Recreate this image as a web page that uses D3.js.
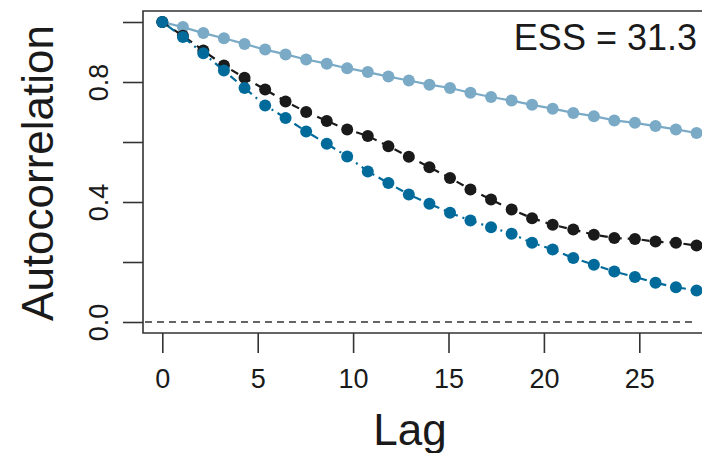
<!DOCTYPE html>
<html><head><meta charset="utf-8">
<script src="https://cdn.jsdelivr.net/npm/d3@7/dist/d3.min.js"></script>
<style>body{margin:0;background:#fff}svg{display:block}text{font-family:"Liberation Sans",Arial,Helvetica,sans-serif;fill:#1a1a1a}</style>
</head><body><svg id="c" width="702" height="453"></svg>
<script>
// Lag positions of the plotted points
const lags = [0,1.08,2.15,3.23,4.31,5.39,6.46,7.54,8.62,9.69,10.77,11.85,12.92,14.0,15.08,16.15,17.23,18.31,19.38,20.46,21.54,22.62,23.69,24.77,25.85,26.92,28.0];
const lightSeries = [1.0,0.983,0.963,0.946,0.927,0.908,0.892,0.875,0.861,0.846,0.833,0.818,0.805,0.791,0.780,0.764,0.750,0.738,0.724,0.711,0.697,0.686,0.672,0.664,0.653,0.642,0.630];
const blackSeries = [1.0,0.954,0.905,0.855,0.814,0.775,0.735,0.700,0.670,0.642,0.620,0.586,0.551,0.516,0.480,0.442,0.408,0.375,0.346,0.324,0.308,0.291,0.280,0.277,0.268,0.264,0.255];
const darkSeries = [1.0,0.950,0.896,0.838,0.780,0.722,0.680,0.635,0.594,0.552,0.502,0.463,0.425,0.394,0.364,0.338,0.316,0.294,0.264,0.242,0.213,0.191,0.168,0.150,0.131,0.116,0.105];
const xTicks = [0,5,10,15,20,25];
const yTicks = [0,0.2,0.4,0.6,0.8,1.0];
const yTickLabels = ["0.0","","0.4","","0.8",""];
const essLabel = "ESS = 31.3";

const svg = d3.select("#c");
const x = d3.scaleLinear().domain([0,25]).range([162.3,639.3]);
const y = d3.scaleLinear().domain([0,1]).range([322,22]);
const box = {l:143, t:11, b:333, r:720};
const axisCol = "#333";

// box
svg.append("path").attr("d",`M${box.r},${box.t}H${box.l}V${box.b}H${box.r}`)
  .attr("fill","none").attr("stroke",axisCol).attr("stroke-width",1.6);

// zero line
svg.append("line").attr("x1",box.l+2).attr("x2",694).attr("y1",y(0)).attr("y2",y(0))
  .attr("stroke",axisCol).attr("stroke-width",1.6).attr("stroke-dasharray","7,5");

// x axis
const xa = svg.append("g").attr("transform",`translate(0,${box.b})`)
  .call(d3.axisBottom(x).tickValues(xTicks).tickSize(20).tickSizeOuter(0).tickPadding(16));
xa.select(".domain").remove();
xa.selectAll("line").attr("stroke",axisCol).attr("stroke-width",1.6);
xa.selectAll("text").attr("font-size",27).attr("fill","#1a1a1a").style("font-family","Liberation Sans, Arial, sans-serif");

// y axis
const ya = svg.append("g").attr("transform",`translate(${box.l},0)`)
  .call(d3.axisLeft(y).tickValues(yTicks).tickSize(20).tickSizeOuter(0).tickFormat((d,i)=>yTickLabels[i]));
ya.select(".domain").remove();
ya.selectAll("line").attr("stroke",axisCol).attr("stroke-width",1.6);
ya.selectAll("text").attr("font-size",27).attr("fill","#1a1a1a").style("font-family","Liberation Sans, Arial, sans-serif")
  .attr("x",0).attr("dy",0).attr("text-anchor","middle")
  .attr("transform","translate(-35,0) rotate(-90)");

// axis titles
svg.append("text").attr("x",410).attr("y",445).attr("text-anchor","middle").attr("font-size",44).text("Lag");
svg.append("text").attr("transform","translate(53,173) rotate(-90)").attr("text-anchor","middle").attr("font-size",44).text("Autocorrelation");
svg.append("text").attr("x",697).attr("y",50).attr("text-anchor","end").attr("font-size",36).text(essLabel);

const line = d3.line().x((d,i)=>x(lags[i])).y(d=>y(d));
const series = [
  {v:lightSeries, c:"#7aaac6", dash:null},
  {v:blackSeries, c:"#1a1a1a", dash:"8,6"},
  {v:darkSeries, c:"#006b9b", dash:"2,5,8,5"}
];
series.forEach(s=>{
  svg.append("path").attr("d",line(s.v)).attr("fill","none").attr("stroke",s.c)
    .attr("stroke-width",2.2).attr("stroke-dasharray",s.dash);
  svg.append("g").selectAll("circle").data(s.v).join("circle")
    .attr("cx",(d,i)=>x(lags[i])).attr("cy",d=>y(d)).attr("r",6).attr("fill",s.c);
});
</script></body></html>
